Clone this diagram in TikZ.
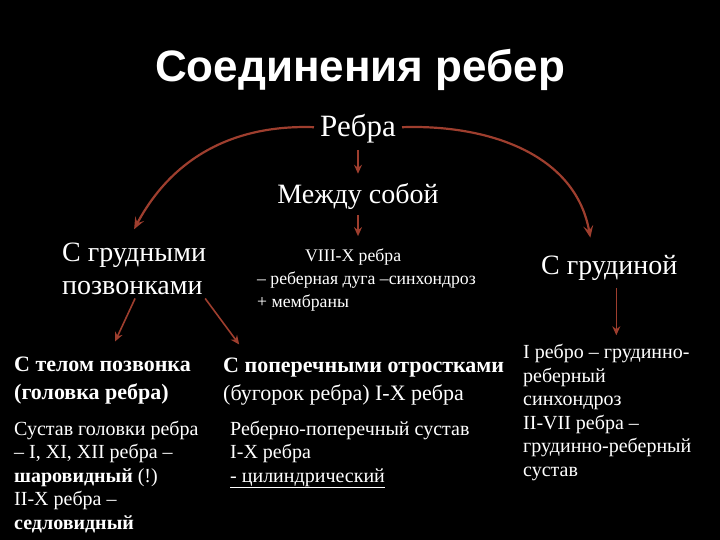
\documentclass[tikz,border=0pt]{standalone}
\usepackage{fontspec}
\setmainfont{Liberation Serif}
\newfontfamily\titlefont{Liberation Sans}
\usetikzlibrary{arrows.meta}
\definecolor{arrowred}{RGB}{158,62,46}
\begin{document}
\begin{tikzpicture}[x=1pt, y=-1pt,
  every node/.style={text=white, inner sep=0pt},
  big/.style={font=\fontsize{28}{33}\selectfont},
  small/.style={font=\fontsize{20}{23.5}\selectfont, align=left, anchor=base west},
  head/.style={font=\fontsize{22}{28}\selectfont, align=left, anchor=base west},
  arr/.style={-{Stealth[length=12pt, width=10pt, inset=5pt]}, arrowred, line width=2.2pt},
  shortarr/.style={-{Stealth[length=9pt, width=8pt, inset=3pt]}, arrowred, line width=1.6pt}]
\fill [black] (0,0) rectangle (720,540);

\node (title) [anchor=base, font=\titlefont\bfseries\fontsize{44}{50}\selectfont] at (360,82) {Соединения ребер};

\node (ribs) [anchor=base, font=\fontsize{31}{36}\selectfont] at (358,137) {Ребра};
\node (between) [big, anchor=base] at (358,204) {Между собой};
\node (vert) [big, align=left, anchor=base west] at (62,294) {С грудными\\позвонками};
\node (sternum) [big, anchor=base west] at (541,274) {С грудиной};

\node (arch) [small, font=\fontsize{17.7}{23}\selectfont] at (257,307) {\hspace*{48pt}VIII-X ребра\\– реберная дуга –синхондроз\\+ мембраны};

\node (body) [head] at (14,399) {\bfseries С телом позвонка\\\bfseries (головка ребра)};
\node (proc) [head] at (223,400) {\bfseries С поперечными отростками\\(бугорок ребра) I-X ребра};

\node (headjoint) [small] at (14,529) {Сустав головки ребра\\– I, XI, XII ребра –\\\textbf{шаровидный} (!)\\II-X ребра –\\\textbf{седловидный}};
\node (tubjoint) [small] at (230,482) {Реберно-поперечный сустав\\I-X ребра\\\underline{- цилиндрический}};
\node (sternjoint) [small] at (523,476) {I ребро – грудинно-\\реберный\\синхондроз\\II-VII ребра –\\грудинно-реберный\\сустав};

% arrows from the top
\draw [arr] ([shift={(-6,-2)}]ribs.west) to[out=178, in=62] ([shift={(0,-13)}]vert.north);
\draw [arr] ([shift={(6,-2)}]ribs.east) to[out=2, in=100] ([shift={(-19,-17)}]sternum.north);
\draw [shortarr, shorten <=6pt, shorten >=10pt] (ribs.south) -- (between.north);
\draw [shortarr, shorten <=5pt, shorten >=12pt] (between.south) -- (between.south |- arch.north);

% arrows to the lower rows
\draw [shortarr] ([shift={(1,4)}]vert.south) -- ++(-20,43);
\draw [shortarr] ([shift={(-1,4)}]vert.south east) -- ++(34,46);
\draw [shortarr] ([shift={(7,8)}]sternum.south) -- ++(0,47);
\end{tikzpicture}
\end{document}
